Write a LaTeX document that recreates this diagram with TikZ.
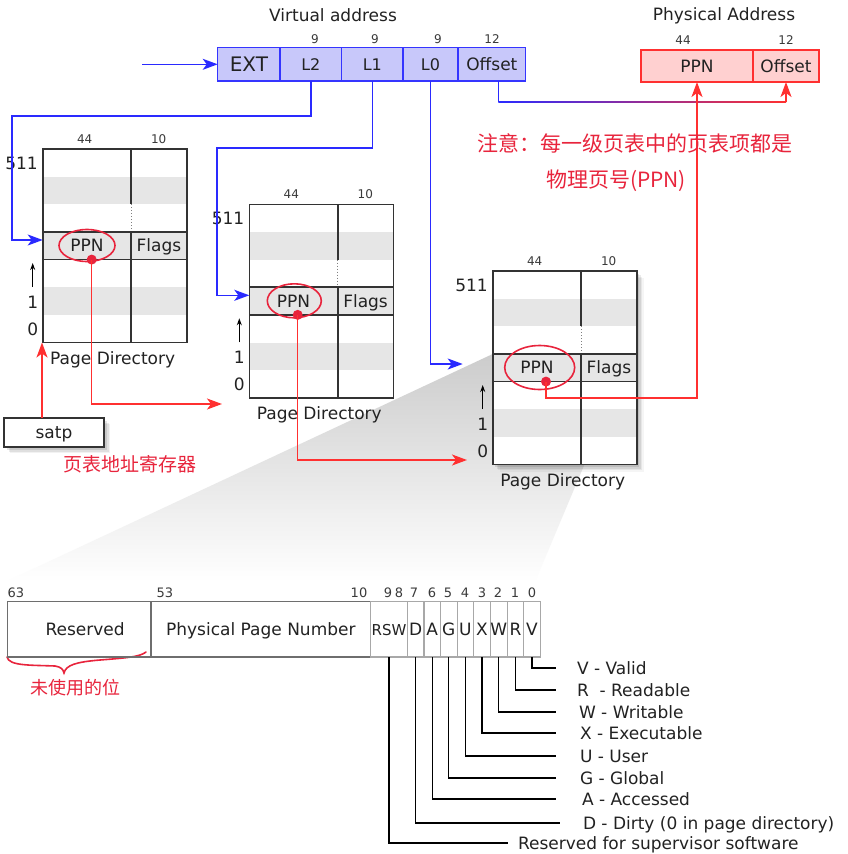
\documentclass[tikz,border=0pt]{standalone}
\usepackage{fontspec}
\setmainfont{DejaVu Sans}
\newfontfamily\cjk{Noto Sans CJK SC}
\usetikzlibrary{arrows.meta,calc}
\definecolor{vblue}{HTML}{3535FF}
\definecolor{vfill}{HTML}{C8C8FA}
\definecolor{lblue}{HTML}{2A2AFF}
\definecolor{pred}{HTML}{FF3030}
\definecolor{pfill}{HTML}{FFD0D0}
\definecolor{hand}{HTML}{E8243C}
\definecolor{rowg}{HTML}{E6E6E6}
\definecolor{tabl}{HTML}{333333}
\definecolor{txtc}{HTML}{222222}
\definecolor{numc}{HTML}{3A3A3A}
\definecolor{pgrey}{HTML}{6E6E6E}
\definecolor{bgrey}{HTML}{A8A8A8}

\newcommand\pgtab[7]{%
\begin{scope}[shift={(#2,#3)}]
\node[tabbox] (#1) at (0,0) {};
\fill[rowg] (0,27.64) rectangle (144,55.29);
\fill[rowg] (0,82.93) rectangle (144,110.57);
\fill[rowg] (0,138.21) rectangle (144,165.86);
\draw[tabline] (88.5,0) -- (88.5,55.29);
\draw[draw=gray, line width=1pt, dotted] (88.5,55.29) -- (88.5,82.93);
\draw[tabline] (88.5,82.93) -- (88.5,193.5);
\draw[tabline] (0,82.93) -- (144,82.93) (0,110.57) -- (144,110.57);
\draw[tabline] (0,0) rectangle (144,193.5);
\node[f12] (#1wa) at (42,-10) {44};
\node[f12] (#1wb) at (116,-10) {10};
\node[f17, anchor=east] (#1top) at (-5,14) {511};
\node[f17] (#1ppn) at (44.25,96.75) {PPN};
\node[f17] (#1flags) at (116.25,96.75) {Flags};
\node[f17] (#1one) at (-10,153) {1};
\node[f17] (#1zero) at (-10,180) {0};
\node[f17] (#1cap) at (70,209) {Page Directory};
\draw[draw=black, line width=1pt, -{Stealth[length=7pt,width=5pt]}] (-10,138) -- (-10,114);
\coordinate (#1in) at (0,91);
\draw[handc] (#5,96.5) ellipse [x radius=#6, y radius=#7];
\fill[hand] (#4,110.57) circle [radius=5];
\coordinate (#1dot) at (#4,110.57);
\end{scope}}

\begin{document}
\begin{tikzpicture}[x=1pt,y=-1pt,
  every node/.style={inner sep=0pt, outer sep=0pt, text=txtc},
  f17/.style={font=\fontsize{17}{20}\selectfont, text height=12.4pt, text depth=0pt},
  f16/.style={font=\fontsize{16}{19}\selectfont, text height=11.7pt, text depth=0pt},
  f20/.style={font=\fontsize{20}{23}\selectfont, text height=14.6pt, text depth=0pt},
  f12/.style={font=\fontsize{12}{14}\selectfont, text height=8.7pt, text depth=0pt, text=numc},
  f13/.style={font=\fontsize{13}{15}\selectfont, text height=9.5pt, text depth=0pt, text=numc},
  tabbox/.style={anchor=north west, minimum width=144pt, minimum height=193.5pt, fill=white},
  tabline/.style={draw=tabl, line width=1.6pt},
  vbox/.style={draw=vblue, fill=vfill, line width=1.5pt, minimum height=33.3pt, anchor=west},
  phbox/.style={draw=pred, fill=pfill, line width=1.3pt, minimum height=32pt, anchor=west, f17},
  barrow/.style={draw=lblue, line width=1.5pt, -{Stealth[length=15pt,width=11pt,inset=4pt]}},
  rarrow/.style={draw=pred, line width=1.5pt, -{Stealth[length=15pt,width=11pt,inset=4pt]}},
  handc/.style={draw=hand, line width=1.6pt},
  handt/.style={text=hand, font=\cjk\fontsize{21}{24}\selectfont},
  pbox/.style={draw=pgrey, line width=1.4pt, minimum height=55.3pt, anchor=west, f17},
  bbox/.style={draw=bgrey, line width=1.2pt, minimum height=55.3pt, minimum width=16.6pt, anchor=west, f17},
  legline/.style={draw=black, line width=1.3pt},
  legl/.style={anchor=west, f17}
]
\useasboundingbox (0,0) rectangle (847,854);
\fill[white] (0,0) rectangle (847,854);

% wedge linking the PTE row to the PTE format
\shade[top color=black!20, bottom color=white] (492.7,354) -- (631,354) -- (535,582) -- (5,582) -- cycle;

% ---------------- virtual address
\node[f17] (vtitle) at (333,15) {Virtual address};
\node[vbox, minimum width=62.3pt, f20] (vext) at (217.7,64.3) {EXT};
\node[vbox, minimum width=61.7pt, f16] (vl2) at (vext.east) {L2};
\node[vbox, minimum width=61.3pt, f16] (vl1) at (vl2.east) {L1};
\node[vbox, minimum width=55pt, f16] (vl0) at (vl1.east) {L0};
\node[vbox, minimum width=67.7pt, f17] (voff) at (vl0.east) {Offset};
\node[f12] (n9a) at (315,39) {9};
\node[f12] (n9b) at (375,39) {9};
\node[f12] (n9c) at (438,39) {9};
\node[f12] (n12a) at (492,39) {12};
\coordinate (vin) at (142,64.3);
\draw[barrow] (vin) -- (vext.west);

% ---------------- physical address
\node[f17] (ptitle) at (724,14) {Physical Address};
\node[phbox, minimum width=112pt] (pppn) at (641,66) {PPN};
\node[phbox, minimum width=66pt] (poff) at (pppn.east) {Offset};
\node[f12] (n44p) at (683,40) {44};
\node[f12] (n12p) at (786,40) {12};

% ---------------- page tables
\pgtab{ta}{42.7}{149}{49}{44.3}{28}{16}
\pgtab{tb}{249.3}{204.3}{48.4}{45}{27}{17}
% shadow of the third table
\foreach \s/\o in {7/0.04,5.5/0.06,4/0.08,2.5/0.1}
  \fill[black, opacity=\o] (492.7+\s,271+\s) rectangle (636.7+\s,464.5+\s);
\pgtab{tc}{492.7}{271}{53.3}{47}{35}{22}

% ---------------- satp
\foreach \s/\o in {6/0.05,4.5/0.08,3/0.1}
  \fill[black, opacity=\o] (4+\s,418+\s) rectangle (104+\s,447+\s);
\node[draw=tabl, line width=1.5pt, fill=white, minimum width=100pt, minimum height=29pt, f17] (satp) at (54,432.5) {satp};
\draw[rarrow] ([xshift=-12pt]satp.north) -- ([xshift=-12pt]satp.north |- ta.south);

% ---------------- blue connectors
\coordinate (b2) at (12,116);
\coordinate (b1) at (217,148);
\draw[barrow] (vl2.south) |- (b2) |- (tain);
\draw[barrow] (vl1.south) |- (b1) |- (tbin);
\coordinate (tcarr) at ($(tcin)+(-30,2)$);
\draw[barrow] (vl0.south) |- (tcarr);
\coordinate (o1) at ($(voff.south)+(6.5,21)$);
\coordinate (o2) at (poff.south |- o1);
\draw[draw=lblue, line width=1.5pt] ([xshift=6.5pt]voff.south) -- (o1);
\shade[left color=lblue, right color=pred] ($(o1)+(0,-0.75)$) rectangle ($(o2)+(0,0.75)$);
\draw[rarrow] (o2) -- (poff.south);

% ---------------- red connectors
\coordinate (tbred) at (222,404);
\coordinate (tcred) at (467,460);
\draw[rarrow] (tadot) |- (tbred);
\draw[rarrow] (tbdot) |- (tcred);
\draw[rarrow] (tcdot) -- ++(0,16.5) -| (pppn.south);

% ---------------- handwritten notes
\node[handt] (note1) at (635,143) {注意：每一级页表中的页表项都是};
\node[handt] (note2) at (616,181) {物理页号(PPN)};
\node[handt, font=\cjk\fontsize{19}{22}\selectfont] (satpnote) at (130,464) {页表地址寄存器};
\node[handt, font=\cjk\fontsize{18}{21}\selectfont] (resnote) at (75,688) {未使用的位};
\draw[handc, line cap=round] (7,657) .. controls (9,666) and (30,665) .. (55,666)
  .. controls (61,667) and (63,669) .. (64,673)
  .. controls (66,665) and (76,662) .. (100,660)
  .. controls (125,658) and (140,657) .. (146,652);

% ---------------- PTE format
\node[pbox, minimum width=143.7pt] (pres) at (7.3,629.4) {\hspace*{12pt}Reserved};
\node[pbox, minimum width=219.7pt] (pnum) at (pres.east) {Physical Page Number};
\node[bbox, minimum width=36.6pt, font=\fontsize{15}{18}\selectfont] (prsw) at (pnum.east) {RSW};
\node[bbox] (pD) at (prsw.east) {D};
\node[bbox] (pA) at (pD.east) {A};
\node[bbox] (pG) at (pA.east) {G};
\node[bbox] (pU) at (pG.east) {U};
\node[bbox] (pX) at (pU.east) {X};
\node[bbox] (pW) at (pX.east) {W};
\node[bbox] (pR) at (pW.east) {R};
\node[bbox] (pV) at (pR.east) {V};
\node[f13] (b63) at (16,593) {63};
\node[f13] (b53) at (165,593) {53};
\node[f13] (b10) at (359,593) {10};
\node[f13] (bn9) at (388,593) {9};
\node[f13] (bn8) at (399,593) {8};
\node[f13] (bn7) at (414,593) {7};
\node[f13] (bn6) at (432,593) {6};
\node[f13] (bn5) at (448,593) {5};
\node[f13] (bn4) at (465,593) {4};
\node[f13] (bn3) at (482,593) {3};
\node[f13] (bn2) at (498,593) {2};
\node[f13] (bn1) at (515,593) {1};
\node[f13] (bn0) at (532,593) {0};

% ---------------- legend
\node[legl] (lv) at (577,668) {V - Valid};
\node[legl] (lr) at (577,690) {R\ \ - Readable};
\node[legl] (lw) at (579,712) {W - Writable};
\node[legl] (lx) at (580,733) {X - Executable};
\node[legl] (lu) at (580,756) {U - User};
\node[legl] (lg) at (580,778) {G - Global};
\node[legl] (la) at (582,799) {A - Accessed};
\node[legl] (ld) at (583,823) {D - Dirty (0 in page directory)};
\node[legl] (ls) at (518,843) {Reserved for supervisor software};
\draw[legline] (pV.south) |- ([xshift=-21pt]lv.west);
\draw[legline] (pR.south) |- ([xshift=-21pt]lr.west);
\draw[legline] (pW.south) |- ([xshift=-23pt]lw.west);
\draw[legline] (pX.south) |- ([xshift=-24pt]lx.west);
\draw[legline] (pU.south) |- ([xshift=-24pt]lu.west);
\draw[legline] (pG.south) |- ([xshift=-24pt]lg.west);
\draw[legline] (pA.south) |- ([xshift=-26pt]la.west);
\draw[legline] (pD.south) |- ([xshift=-23pt]ld.west);
\draw[legline] (prsw.south) |- ([xshift=-10pt]ls.west);
\end{tikzpicture}
\end{document}
